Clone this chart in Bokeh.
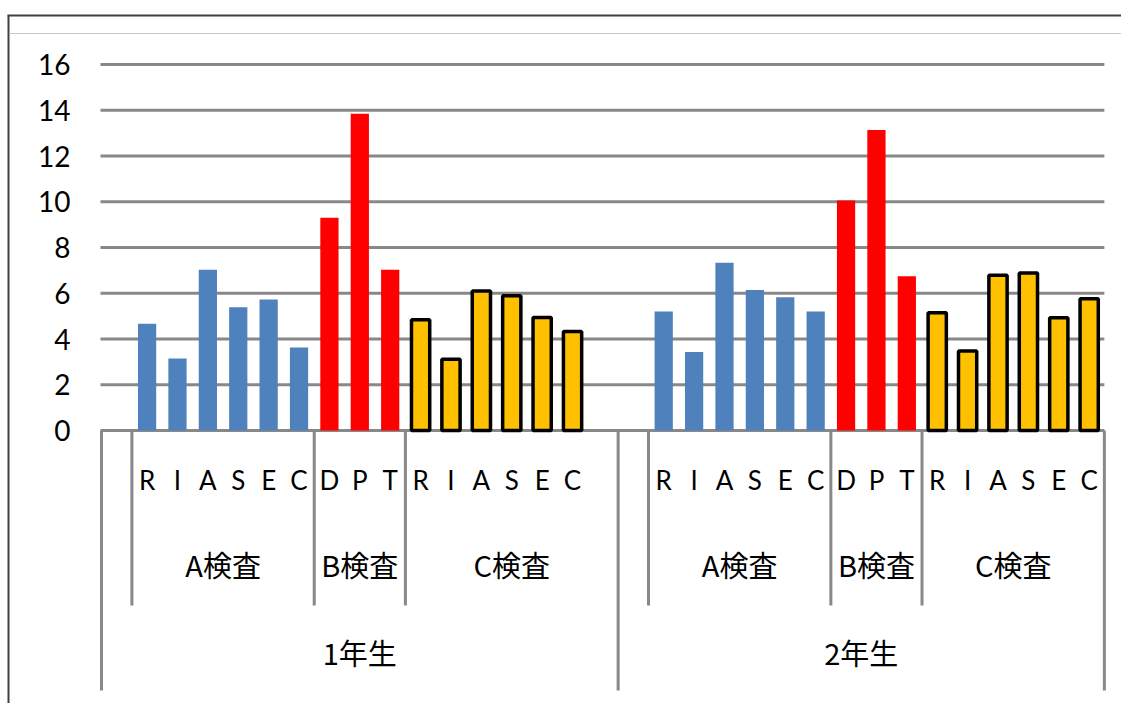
from bokeh.plotting import figure
from bokeh.models import Range1d, LinearAxis, FixedTicker, ColumnDataSource
from bokeh.core.properties import value
from bokeh.embed import file_html
from bokeh.resources import INLINE

# ---------------- data ----------------
years = ["1年生", "2年生"]
exams = ["A検査", "B検査", "C検査"]
letters_A = ["R", "I", "A", "S", "E", "C"]
letters_B = ["D", "P", "T"]
letters_C = ["R", "I", "A", "S", "E", "C"]
# empty category rows: one before A検査 in each year, one after C検査 in 1年生
lead_blanks = [1, 1]
trail_blanks_C = [1, 0]

y1_A = [4.67, 3.15, 7.03, 5.39, 5.73, 3.63]
y1_B = [9.30, 13.85, 7.03]
y1_C = [4.84, 3.12, 6.10, 5.89, 4.94, 4.33]
y2_A = [5.20, 3.43, 7.33, 6.14, 5.82, 5.20]
y2_B = [10.06, 13.14, 6.74]
y2_C = [5.15, 3.48, 6.79, 6.89, 4.93, 5.76]

y_ticks = [0, 2, 4, 6, 8, 10, 12, 14, 16]

# ---------------- styles ----------------
exam_fill = ["#4F81BD", "#FF0000", "#FFC000"]
exam_line = [None, None, "#000000"]
GRAY = "#888888"

W, H = 1121, 703
SW = 30.39        # px per category slot
UY = 22.875       # px per y unit
PLOT_LEFT = 101   # px, left edge of first slot inside figure
ZERO_Y = 430      # px from figure top to y=0


def dx(px):   # figure px -> x data
    return -0.5 + (px - PLOT_LEFT) / SW


def dy(px):   # figure px (from top) -> y data
    return (ZERO_Y - px) / UY


series = {"1年生": [y1_A, y1_B, y1_C], "2年生": [y2_A, y2_B, y2_C]}
letters = [letters_A, letters_B, letters_C]

pos = 0
bars = [dict(x=[], top=[]) for _ in range(3)]
letter_x, letter_t = [], []
exam_x, exam_t = [], []
year_x, year_t = [], []
year_edges = [pos - 0.5]
exam_edges = []
for yi, yr in enumerate(years):
    ystart = pos
    pos += lead_blanks[yi]
    for ei in range(3):
        estart = pos
        exam_edges.append(pos - 0.5)
        for L, v in zip(letters[ei], series[yr][ei]):
            bars[ei]["x"].append(pos)
            bars[ei]["top"].append(v)
            letter_x.append(pos)
            letter_t.append(L)
            pos += 1
        if ei == 2:
            pos += trail_blanks_C[yi]
        exam_x.append((estart + pos - 1) / 2)
        exam_t.append(exams[ei])
    year_x.append((ystart + pos - 1) / 2)
    year_t.append(yr)
    year_edges.append(pos - 0.5)
n_slots = pos

p = figure(width=W, height=H,
           x_range=Range1d(dx(0), dx(W)), y_range=Range1d(dy(H), dy(0)),
           toolbar_location=None, output_backend="svg",
           x_axis_location=None, y_axis_location=None,
           min_border=0, outline_line_color=None,
           background_fill_color="white", border_fill_color="white")
p.xgrid.visible = False
p.ygrid.visible = False

# horizontal gridlines (incl. the category axis line at 0), only over the plot area
x_lo = -0.5 - 1 / SW
x_hi = n_slots - 0.5
p.segment(x0=[x_lo] * len(y_ticks), y0=y_ticks, x1=[x_hi] * len(y_ticks), y1=y_ticks,
          line_color=GRAY, line_width=3)

# y axis placed inside the frame
yaxis = LinearAxis(ticker=FixedTicker(ticks=y_ticks), fixed_location=-0.5,
                   axis_line_color=None, major_tick_line_color=None,
                   minor_tick_line_color=None, major_tick_out=0, major_tick_in=0,
                   major_label_standoff=31,
                   major_label_text_font="Lato", major_label_text_font_size="28px",
                   major_label_text_color="#000000")
p.add_layout(yaxis, "left")

# bars
for ei in range(3):
    src = ColumnDataSource(bars[ei])
    if exam_line[ei] is None:
        p.vbar(x="x", top="top", bottom=0, width=0.6, source=src,
               fill_color=exam_fill[ei], line_color=None)
    else:
        p.vbar(x="x", top="top", bottom=0, width=0.6, source=src,
               fill_color=exam_fill[ei], line_color=exam_line[ei], line_width=3.5)

# category separators
p.segment(x0=exam_edges, y0=[0] * len(exam_edges), x1=exam_edges,
          y1=[dy(605)] * len(exam_edges), line_color=GRAY, line_width=3)
p.segment(x0=year_edges, y0=[0] * len(year_edges), x1=year_edges,
          y1=[dy(690)] * len(year_edges), line_color=GRAY, line_width=3)

# category labels
p.text(x=letter_x, y=[dy(479.5)] * len(letter_x), text=letter_t,
       text_align="center", text_baseline="middle",
       text_font=value("Lato"), text_font_size="26px", text_color="#000000")
p.text(x=exam_x, y=[dy(563)] * len(exam_x), text=exam_t,
       text_align="center", text_baseline="middle",
       text_font=value("Noto Sans CJK JP"), text_font_size="29px", text_color="#000000")
p.text(x=year_x, y=[dy(651)] * len(year_x), text=year_t,
       text_align="center", text_baseline="middle",
       text_font=value("Noto Sans CJK JP"), text_font_size="29px", text_color="#000000")

# screenshot frame lines
p.segment(x0=[dx(7)], y0=[dy(15)], x1=[dx(W)], y1=[dy(15)], line_color="#404040", line_width=2)
p.segment(x0=[dx(8)], y0=[dy(15)], x1=[dx(8)], y1=[dy(H)], line_color="#404040", line_width=2)
p.segment(x0=[dx(9)], y0=[dy(33)], x1=[dx(W)], y1=[dy(33)], line_color="#C8C8C8", line_width=1)

open("out.html", "w").write(file_html(p, INLINE))
